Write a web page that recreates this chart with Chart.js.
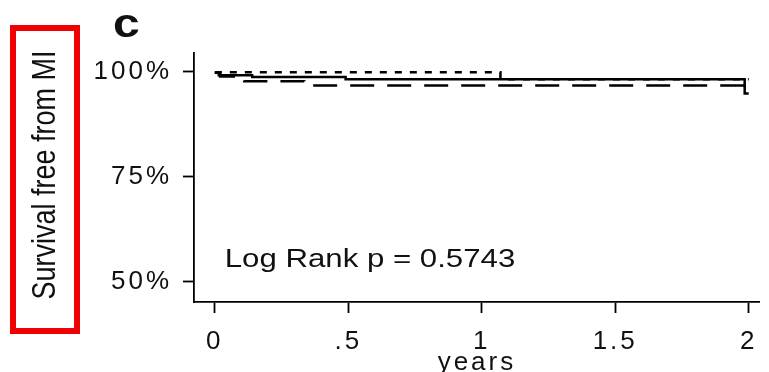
<!DOCTYPE html>
<html>
<head>
<meta charset="utf-8">
<script src="https://cdn.jsdelivr.net/npm/chart.js@4/dist/chart.umd.min.js"></script>
<style>
  html, body { margin: 0; padding: 0; background: #fff; }
  #wrap { width: 769px; height: 372px; position: relative; }
</style>
</head>
<body>
<div id="wrap"><canvas id="myChart"></canvas></div>
<script>
// Kaplan-Meier steps (years, % free from MI)
const solidTimes = [0, 0.015, 0.14, 0.49, 1.985, 2.0];
const solidSurv  = [99.7, 99.1, 98.7, 98.15, 94.8, 94.8];
const dashTimes  = [0, 0.02, 0.11, 0.335, 2.0];
const dashSurv   = [99.7, 98.8, 97.7, 96.7, 96.7];
const dotTimes   = [0, 1.07, 2.0];
const dotSurv    = [99.8, 98.15, 98.15];

const xTickValues = [0, 0.5, 1, 1.5, 2];
const xTickLabels = ['0', '.5', '1', '1.5', '2'];
const yTickValues = [50, 75, 100];
const yTickLabels = ['50%', '75%', '100%'];

const panelLetter = 'c';
const yTitle = 'Survival free from MI';
const xTitle = 'years';
const statText = 'Log Rank p = 0.5743';

function toPoints(times, vals) {
    return times.map((t, i) => ({ x: t, y: vals[i] }));
}

const ink = '#111';

const extras = {
    id: 'extras',
    beforeDraw(chart) {
        chart.ctx.letterSpacing = '3px';
    },
    afterDraw(chart) {
        const ctx = chart.ctx;
        const xs = chart.scales.x, ys = chart.scales.y;
        ctx.save();
        ctx.letterSpacing = '0px';
        ctx.fillStyle = ink;

        // panel letter
        ctx.save();
        ctx.font = 'bold 40px "Liberation Sans", Arial, sans-serif';
        ctx.textBaseline = 'alphabetic';
        ctx.translate(113, 37);
        ctx.scale(1.2, 1);
        ctx.fillText(panelLetter, 0, 0);
        ctx.restore();

        // red box + rotated y title
        ctx.strokeStyle = '#f00000';
        ctx.lineWidth = 6;
        ctx.strokeRect(13, 28, 64, 303);
        ctx.save();
        ctx.font = '27px "Liberation Sans", Arial, sans-serif';
        ctx.textAlign = 'center';
        ctx.textBaseline = 'alphabetic';
        ctx.translate(55, 175);
        ctx.rotate(-Math.PI / 2);
        ctx.scale(1, 1.2);
        ctx.fillText(yTitle, 0, 0);
        ctx.restore();

        // log rank annotation
        ctx.save();
        ctx.font = '26px "Liberation Sans", Arial, sans-serif';
        ctx.textBaseline = 'alphabetic';
        ctx.translate(xs.getPixelForValue(0.037), ys.getPixelForValue(53.6));
        ctx.scale(1.2, 1);
        ctx.fillText(statText, 0, 0);
        ctx.restore();

        ctx.restore();
    }
};

const lineStyle = {
    borderColor: '#000',
    borderWidth: 2.5,
    pointRadius: 0,
    fill: false,
    stepped: 'before',
    tension: 0
};

new Chart(document.getElementById('myChart'), {
    type: 'line',
    data: {
        datasets: [
            Object.assign({ label: 'dashed', data: toPoints(dashTimes, dashSurv), borderDash: [24, 13] }, lineStyle),
            Object.assign({ label: 'dotted', data: toPoints(dotTimes, dotSurv), borderDash: [7, 8] }, lineStyle),
            Object.assign({ label: 'solid', data: toPoints(solidTimes, solidSurv) }, lineStyle)
        ]
    },
    options: {
        responsive: true,
        maintainAspectRatio: false,
        animation: false,
        layout: { padding: { top: 53, right: 4, bottom: 0, left: 0 } },
        plugins: { legend: { display: false }, tooltip: { enabled: false } },
        scales: {
            x: {
                type: 'linear',
                min: -0.078,
                max: 2.042,
                afterBuildTicks: s => { s.ticks = xTickValues.map(v => ({ value: v })); },
                afterFit: s => { s.height = 70; },
                grid: { drawOnChartArea: false, drawTicks: true, tickLength: 11, tickWidth: 1.8, tickColor: '#000' },
                border: { display: true, color: '#000', width: 1.8 },
                ticks: {
                    color: ink,
                    padding: 13,
                    maxRotation: 0,
                    autoSkip: false,
                    font: { family: '"Liberation Sans", Arial, sans-serif', size: 26 },
                    callback: v => { const i = xTickValues.indexOf(v); return i >= 0 ? xTickLabels[i] : ''; }
                },
                title: {
                    display: true,
                    text: xTitle,
                    color: ink,
                    padding: 0,
                    font: { family: '"Liberation Sans", Arial, sans-serif', size: 26, lineHeight: 0.7 }
                }
            },
            y: {
                type: 'linear',
                min: 45.2,
                max: 104.4,
                afterBuildTicks: s => { s.ticks = yTickValues.map(v => ({ value: v })); },
                afterFit: s => { s.width = 194; },
                grid: { drawOnChartArea: false, drawTicks: true, tickLength: 11, tickWidth: 1.8, tickColor: '#000' },
                border: { display: true, color: '#000', width: 1.8 },
                ticks: {
                    color: ink,
                    padding: 11,
                    autoSkip: false,
                    font: { family: '"Liberation Sans", Arial, sans-serif', size: 26 },
                    callback: v => { const i = yTickValues.indexOf(v); return i >= 0 ? yTickLabels[i] : ''; }
                }
            }
        }
    },
    plugins: [extras]
});
</script>
</body>
</html>
